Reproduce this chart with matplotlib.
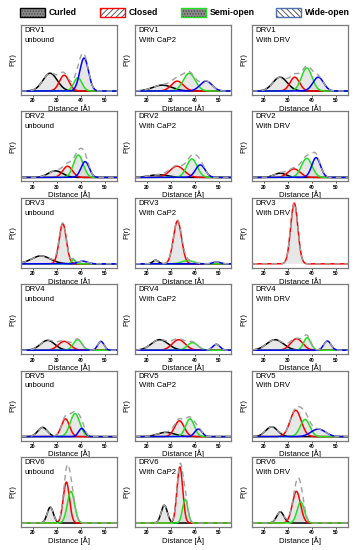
import numpy as np
import matplotlib
matplotlib.use('Agg')
import matplotlib.pyplot as plt
from matplotlib.patches import Rectangle

plt.rcParams['font.family'] = ['Liberation Sans', 'DejaVu Sans']
plt.rcParams['hatch.linewidth'] = 0.6

nan = np.nan

drv_names = ['DRV1', 'DRV2', 'DRV3', 'DRV4', 'DRV5', 'DRV6']
conditions = ['unbound', 'With CaP2', 'With DRV']
states = ['Curled', 'Closed', 'Semi-open', 'Wide-open']

# gaussian components per panel: rows = DRV1..6, cols = unbound / CaP2 / DRV
curled_mu = [[27.1, 26.4, 26.7], [29.3, 24.8, 26.7], [23.3, 23.6, nan],
             [26.1, 25.3, 24.6], [24.0, 27.9, 23.2], [27.2, 27.2, 26.8]]
curled_sd = [[3.0, 4.0, 3.0], [3.0, 4.0, 2.5], [4.0, 1.2, nan],
             [3.0, 3.5, 3.5], [2.0, 3.5, 2.5], [1.3, 1.3, 1.5]]
curled_h = [[0.27, 0.09, 0.21], [0.10, 0.04, 0.065], [0.12, 0.055, 0.0],
            [0.15, 0.16, 0.16], [0.14, 0.065, 0.15], [0.24, 0.27, 0.17]]

closed_mu = [[33.0, 32.6, 32.8], [34.4, 32.5, 32.5], [32.4, 32.7, 32.6],
             [33.0, 33.2, 33.6], [33.5, 33.5, 33.2], [33.9, 33.7, 33.5]]
closed_sd = [[2.0, 2.5, 2.0], [2.0, 3.0, 2.5], [1.5, 1.7, 1.5],
             [2.5, 2.7, 2.5], [1.7, 2.0, 2.3], [1.3, 1.2, 1.7]]
closed_h = [[0.24, 0.15, 0.21], [0.17, 0.17, 0.13], [0.61, 0.65, 0.92],
            [0.135, 0.16, 0.175], [0.27, 0.24, 0.40], [0.62, 0.85, 0.48]]

semi_mu = [[38.7, 37.6, 37.8], [38.9, 38.7, 37.8], [36.8, 36.9, nan],
           [38.6, 39.0, 38.0], [37.5, 37.9, 37.1], [35.8, 35.9, 35.3]]
semi_sd = [[1.7, 2.5, 2.2], [2.0, 2.2, 2.2], [0.8, 2.5, nan],
           [1.8, 2.2, 1.5], [2.0, 1.8, 2.0], [1.5, 1.1, 1.5]]
semi_h = [[0.20, 0.27, 0.35], [0.34, 0.28, 0.29], [0.065, 0.05, 0.0],
          [0.16, 0.115, 0.19], [0.35, 0.27, 0.26], [0.48, 0.36, 0.32]]

wide_mu = [[41.3, 44.6, 42.6], [41.7, 42.2, 41.7], [40.7, 49.0, nan],
           [48.3, 48.9, 46.4], [40.3, 41.4, 42.6], [nan, nan, nan]]
wide_sd = [[1.8, 2.5, 2.2], [1.7, 2.0, 1.8], [2.0, 1.5, nan],
           [1.3, 1.5, 1.5], [1.3, 1.5, 3.0], [nan, nan, nan]]
wide_h = [[0.50, 0.15, 0.21], [0.24, 0.19, 0.30], [0.04, 0.03, 0.0],
          [0.135, 0.09, 0.14], [0.125, 0.115, 0.115], [0.0, 0.0, 0.0]]

components = [
    (curled_mu, curled_sd, curled_h, 'black'),
    (closed_mu, closed_sd, closed_h, '#ff0000'),
    (semi_mu, semi_sd, semi_h, '#22e022'),
    (wide_mu, wide_sd, wide_h, '#0000ff'),
]

W, H = 359, 550
fig = plt.figure(figsize=(W / 100, H / 100), dpi=100)

# legend on top, drawn by hand
leg_x = [20, 100, 181, 276]
leg_face = ['#8a8a8a', 'white', '#8a8a8a', 'white']
leg_hatch = ['......', '//////', '......', '\\\\\\\\\\\\']
leg_edge = ['black', '#ff0000', '#22e022', '#5070b0']
for i, name in enumerate(states):
    x0 = leg_x[i] / W
    y0 = 1 - 17 / H
    w, h = 25 / W, 9.5 / H
    fig.add_artist(Rectangle((x0, y0), w, h, transform=fig.transFigure,
                             facecolor=leg_face[i], edgecolor='#444444',
                             hatch=leg_hatch[i], lw=0))
    fig.add_artist(Rectangle((x0, y0), w, h, transform=fig.transFigure,
                             fill=False, edgecolor=leg_edge[i], lw=1.0))
    fig.text(x0 + w + 3.5 / W, y0 + h / 2, name, fontsize=6.3,
             fontweight='bold', va='center', ha='left')

x = np.linspace(15, 55, 500)
col_left = [21, 135, 252]
for r in range(6):
    top = 25 + 86.4 * r
    for c in range(3):
        ax = fig.add_axes([col_left[c] / W, 1 - (top + 70) / H, 96 / W, 70 / H])
        total = np.zeros_like(x)
        for mu, sd, hh, col in components:
            m, s, a = mu[r][c], sd[r][c], hh[r][c]
            if np.isnan(m):
                continue
            y = a * np.exp(-0.5 * ((x - m) / s) ** 2)
            ax.fill_between(x, 0, y, facecolor='#d4d4d4', alpha=0.55, lw=0)
            ax.plot(x, y, color=col, lw=1.1)
            total += y
        ax.plot(x, total, color='#a0a0a0', ls=(0, (4, 3)), lw=1.0)

        ax.set_xlim(15, 55)
        ax.set_ylim(-0.06, 1.0)
        ax.set_yticks([])
        ax.set_xticks([20, 30, 40, 50])
        ax.tick_params(axis='x', length=1.5, width=0.5, pad=1, labelsize=3.6)
        for lbl in ax.get_xticklabels():
            lbl.set_fontweight('bold')
        for sp in ax.spines.values():
            sp.set_color('#7a7a7a')
            sp.set_linewidth(0.9)
        ax.set_xlabel('Distance [Å]', fontsize=5.6, labelpad=0.5)
        ax.set_ylabel('P(r)', fontsize=5.6, labelpad=3)
        ax.text(0.04, 0.97, drv_names[r] + '\n' + conditions[c], transform=ax.transAxes,
                va='top', ha='left', fontsize=5.6, linespacing=1.55)

fig.savefig('out.png', dpi=100)
